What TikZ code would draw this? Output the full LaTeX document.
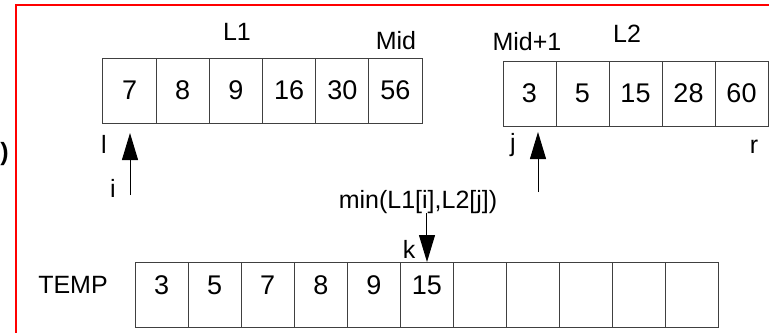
\documentclass[tikz,border=0pt]{standalone}
\usepackage{fontspec}
\setmainfont{Liberation Sans}
\usetikzlibrary{arrows.meta}
\begin{document}
\begin{tikzpicture}[x=1pt,y=-1pt,
  cell/.style={draw=black!75, line width=1pt, minimum width=53.2pt, minimum height=65pt, inner sep=0pt, outer sep=0pt, font=\fontsize{27}{27}\selectfont},
  tcell/.style={cell, minimum width=53.09pt, text depth=18pt},
  lbl/.style={font=\fontsize{25}{25}\selectfont, inner sep=0pt, anchor=base},
  ptr/.style={line width=1pt, -{Triangle[length=27pt,width=16pt]}}]
\useasboundingbox (0,0) rectangle (769,333);
\draw[red, line width=2pt] (769,5) -- (16,5) -- (16,333);
\node[lbl, anchor=base east] (paren) at (9,160) {\textbf{)}};
% L1
\foreach \v [count=\n] in {7,8,9,16,30,56}
  \node[cell] (a\n) at ({103+53.17*(\n-0.5)},90.5) {\v};
% L2
\foreach \v [count=\n] in {3,5,15,28,60}
  \node[cell, minimum width=53pt] (b\n) at ({503+53*(\n-0.5)},93.5) {\v};
% TEMP
\foreach \v [count=\n] in {3,5,7,8,9,15}
  \node[tcell] (t\n) at ({135+53.09*(\n-0.5)},294.5) {\v};
\foreach \n in {7,...,11}
  \node[tcell] (t\n) at ({135+53.09*(\n-0.5)},294.5) {};
% labels
\node[lbl] (L1) at (237,40) {L1};
\node[lbl] (mid) at (396,49) {Mid};
\node[lbl] (mid1) at (527,50) {Mid+1};
\node[lbl] (L2) at (627,42) {L2};
\node[lbl] (l) at (104,153) {l};
\node[lbl] (i) at (113,197) {i};
\node[lbl] (j) at (513,151) {j};
\node[lbl] (r) at (754,153) {r};
\node[lbl] (min) at (418,208) {min(L1[i],L2[j])};
\node[lbl] (k) at (409,258) {k};
\node[lbl] (temp) at (73,293) {TEMP};
% pointers
\coordinate (itail) at (130,195);
\coordinate (itip) at (130,133);
\coordinate (jtail) at (538,192);
\coordinate (jtip) at (538,132);
\draw[ptr] (itail) -- (itip);
\draw[ptr] (jtail) -- (jtip);
\draw[ptr] (min.south -| t6.north) -- (t6.north);
\end{tikzpicture}
\end{document}
